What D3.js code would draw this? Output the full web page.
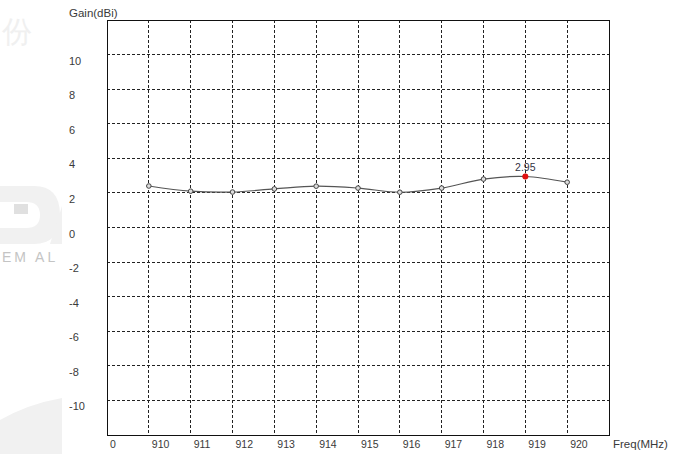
<!DOCTYPE html>
<meta charset="utf-8">
<style>
body { margin: 0; background: #fff; }
text { font-family: Arial, "Liberation Sans", sans-serif; fill: #3a3a3a; }
</style>
<body>
<script src="https://d3js.org/d3.v7.min.js"></script>
<script>
var width = 693,
	height = 454,
	pLeft = 107,
	pTop = 20,
	pRight = 609,
	pBottom = 435;

// x axis slots: "0" then 910..920, one empty slot at the end
var xLabels = ["0", "910", "911", "912", "913", "914", "915", "916", "917", "918", "919", "920"];
var yTicks = [10, 8, 6, 4, 2, 0, -2, -4, -6, -8, -10];
var freq = [910, 911, 912, 913, 914, 915, 916, 917, 918, 919, 920];
var gain = [2.4, 2.1, 2.05, 2.23, 2.39, 2.28, 2.04, 2.28, 2.8, 2.95, 2.62];
var peakFreq = 919, peakGain = 2.95;

var svg = d3.select("body").append("svg")
			.attr("width", width)
			.attr("height", height);

// faint background watermark
var wm = svg.append("g").style("fill", "#f1f1f1");
wm.append("path").attr("d", "M0,186 L34,186 Q60,186 60,215 Q60,244 34,244 L0,244 L0,228 L26,228 Q40,228 40,215 Q40,202 26,202 L0,202 Z");
wm.append("rect").attr("x", 14).attr("y", 204).attr("width", 14).attr("height", 10).style("fill", "#e0e0e0");
wm.append("path").attr("d", "M50,244 L62,206 L62,244 Z");
wm.append("path").attr("d", "M0,420 Q28,404 62,398 L62,454 L0,454 Z");
svg.append("text").attr("x", 2).attr("y", 262)
	.style("font-size", "14px").style("fill", "#c4c4c4").style("letter-spacing", "3px")
	.text("EM AL");
svg.append("text").attr("x", 2).attr("y", 42)
	.style("font-size", "30px").style("fill", "#f0f0f0")
	.text("份");

var x = d3.scaleLinear().domain([0, 12]).range([pLeft, pRight]);
var y = d3.scaleLinear().domain([-12, 12]).range([pBottom, pTop]);
var xf = function(f) { return x(f - 909); };

var grid = svg.append("g");
grid.selectAll("line.v")
	.data(d3.range(1, 12))
	.enter().append("line")
	.attr("x1", d => x(d)).attr("x2", d => x(d))
	.attr("y1", pTop).attr("y2", pBottom)
	.style("stroke", "#222").style("stroke-dasharray", "3,2").style("shape-rendering", "crispEdges");
grid.selectAll("line.h")
	.data(yTicks)
	.enter().append("line")
	.attr("x1", pLeft).attr("x2", pRight)
	.attr("y1", d => y(d)).attr("y2", d => y(d))
	.style("stroke", "#222").style("stroke-dasharray", "3,2").style("shape-rendering", "crispEdges");

svg.append("rect")
	.attr("x", pLeft).attr("y", pTop)
	.attr("width", pRight - pLeft).attr("height", pBottom - pTop)
	.style("fill", "none").style("stroke", "#111").style("shape-rendering", "crispEdges");

svg.selectAll("text.ylab")
	.data(yTicks)
	.enter().append("text")
	.attr("x", 69).attr("y", d => y(d) + 10)
	.style("font-size", "11px")
	.text(d => d);

svg.selectAll("text.xlab")
	.data(xLabels)
	.enter().append("text")
	.attr("x", (d, i) => x(i) + 3).attr("y", 448)
	.style("font-size", "10.5px")
	.text(d => d);

svg.append("text").attr("x", 69).attr("y", 17).style("font-size", "11.5px").text("Gain(dBi)");
svg.append("text").attr("x", 613).attr("y", 448).style("font-size", "11.5px").text("Freq(MHz)");

var pts = freq.map((f, i) => [xf(f), y(gain[i])]);

svg.append("path")
	.attr("d", d3.line().curve(d3.curveCardinal)(pts))
	.style("fill", "none").style("stroke", "#555").style("stroke-width", 1.2);

svg.selectAll("circle.pt")
	.data(pts)
	.enter().append("circle")
	.attr("cx", d => d[0]).attr("cy", d => d[1]).attr("r", 2.3)
	.style("fill", "#ddd").style("stroke", "#444").style("stroke-width", 1);

svg.append("circle")
	.attr("cx", xf(peakFreq)).attr("cy", y(peakGain)).attr("r", 3)
	.style("fill", "#e01010");
svg.append("text")
	.attr("x", xf(peakFreq)).attr("y", y(peakGain) - 5)
	.attr("text-anchor", "middle")
	.style("font-size", "10.5px").style("fill", "#334")
	.text(peakGain);
</script>
</body>
